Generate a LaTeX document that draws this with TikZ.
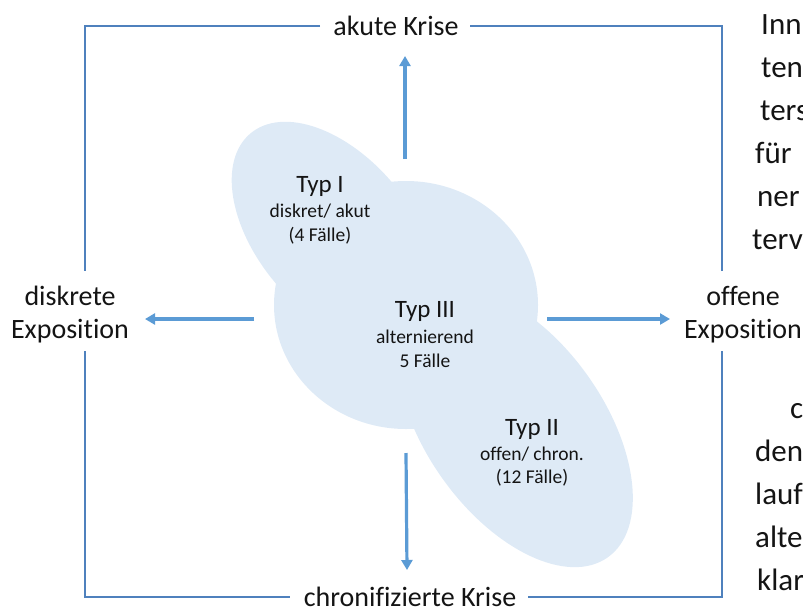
\documentclass[tikz,border=0pt]{standalone}
\usepackage{fontspec}
\setmainfont{Carlito}[Ligatures=NoCommon]
\usetikzlibrary{arrows.meta}

\definecolor{framecol}{RGB}{79,129,189}
\definecolor{arrowcol}{RGB}{91,155,213}
\definecolor{blobcol}{RGB}{222,234,246}
\definecolor{textcol}{RGB}{20,20,20}

\tikzset{
  frame/.style={draw=framecol, line width=1.5pt},
  axisarrow/.style={draw=arrowcol, line width=3.2pt, -{Triangle[width=11pt,length=10pt]}},
  blob/.style={fill=blobcol},
  axislabel/.style={anchor=base, inner sep=0pt, text=textcol, font=\fontsize{28}{34}\selectfont},
  typtitle/.style={anchor=base, inner sep=0pt, text=textcol, font=\fontsize{25}{30}\selectfont},
  typline/.style={anchor=base, inner sep=0pt, text=textcol, font=\fontsize{19.5}{24}\selectfont},
  sidetext/.style={anchor=base west, inner sep=0pt, text=textcol, font=\fontsize{31}{43}\selectfont},
}

\begin{document}
\begin{tikzpicture}[x=1pt, y=-1pt]
\useasboundingbox (0,0) rectangle (803,608);

% light blue region: three overlapping ellipses
\fill[blob] (406,305) ellipse [x radius=132, y radius=124];
\fill[blob, rotate around={-50:(334,233)}] (334,233) ellipse [x radius=130, y radius=77];
\fill[blob, rotate around={-54.5:(515,427)}] (515,427) ellipse [x radius=160, y radius=89];

% frame, broken where the axis labels sit
\draw[frame] (320,26) -- (85,26) -- (85,271);
\draw[frame] (85,351) -- (85,597) -- (290,597);
\draw[frame] (528,597) -- (722,597) -- (722,351);
\draw[frame] (722,271) -- (722,26) -- (470,26);

% axis arrows
\coordinate (upS) at (405,159);   \coordinate (upE) at (405,56);
\coordinate (dnS) at (406,453);   \coordinate (dnE) at (407,570);
\coordinate (lfS) at (254,319);   \coordinate (lfE) at (145,319);
\coordinate (rtS) at (547,319);   \coordinate (rtE) at (670,319);
\draw[axisarrow] (upS) -- (upE);
\draw[axisarrow] (dnS) -- (dnE);
\draw[axisarrow] (lfS) -- (lfE);
\draw[axisarrow] (rtS) -- (rtE);

% axis labels
\node[axislabel] (akut) at (396,35) {akute Krise};
\node[axislabel] (chron) at (410,606) {chronifizierte Krise};
\node[axislabel] (disA) at (70,305) {diskrete};
\node[axislabel] (disB) at (70,338) {Exposition};
\node[axislabel] (offA) at (743,305) {offene};
\node[axislabel] (offB) at (743,338) {Exposition};

% types
\node[typtitle] (t1a) at (320,192) {Typ I};
\node[typline]  (t1b) at (320,217) {diskret/ akut};
\node[typline]  (t1c) at (320,241) {(4 Fälle)};

\node[typtitle] (t3a) at (425,317) {Typ III};
\node[typline]  (t3b) at (425,343) {alternierend};
\node[typline]  (t3c) at (425,367) {5 Fälle};

\node[typtitle] (t2a) at (532,435) {Typ II};
\node[typline]  (t2b) at (532,460) {offen/ chron.};
\node[typline]  (t2c) at (532,483) {(12 Fälle)};

% running text at the right edge
\node[sidetext] (s1) at (761,34)  {Inn};
\node[sidetext] (s2) at (761,77)  {ten};
\node[sidetext] (s3) at (760,120) {ters};
\node[sidetext] (s4) at (755,163) {für};
\node[sidetext] (s5) at (757,206) {ner};
\node[sidetext] (s6) at (752,249) {terv};
\node[sidetext] (s7) at (790,418) {c};
\node[sidetext] (s8) at (755,461) {den};
\node[sidetext] (s9) at (755,504) {lauf};
\node[sidetext] (s10) at (755,547) {alte};
\node[sidetext] (s11) at (757,590) {klar};
\end{tikzpicture}
\end{document}
